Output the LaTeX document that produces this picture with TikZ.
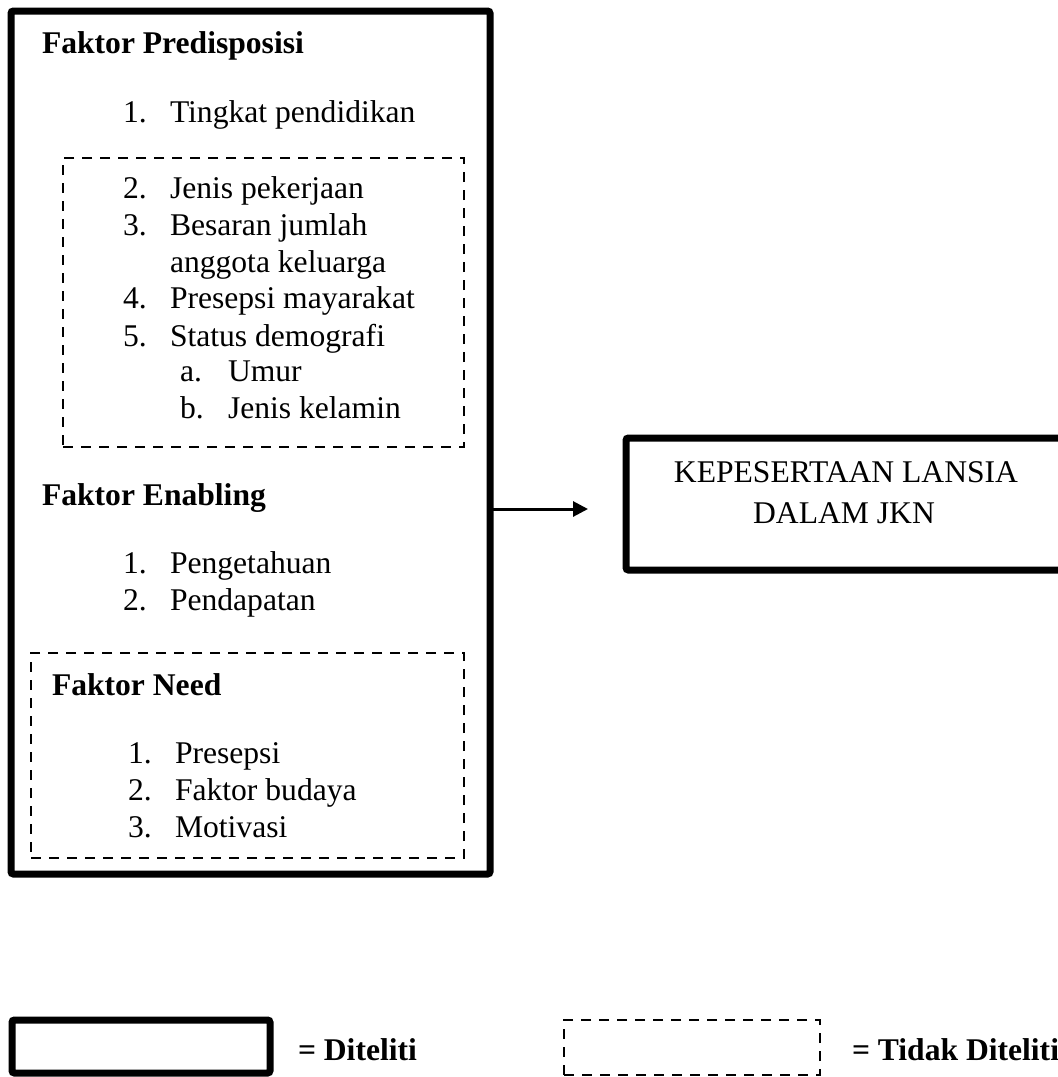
\documentclass[tikz,border=0pt]{standalone}
\usepackage{fontspec}
\setmainfont{Liberation Serif}
\usetikzlibrary{arrows.meta}
\tikzset{
  txt/.style={anchor=base west, inner sep=0pt, outer sep=0pt, font=\fontsize{15.8}{18}\selectfont},
  btxt/.style={txt, font=\fontsize{15.8}{18}\selectfont\bfseries},
  ctxt/.style={txt, anchor=base},
  solidbox/.style={draw, line width=3.5pt, rounded corners=1.2pt, inner sep=0pt, outer sep=0pt},
  dashbox/.style={draw, line width=1.1pt, dash pattern=on 5pt off 4pt, inner sep=0pt, outer sep=0pt},
  arr/.style={line width=1.5pt, -{Triangle[length=7.5pt,width=7.5pt]}},
}
\begin{document}
\begin{tikzpicture}[x=0.5pt,y=-0.5pt]
\useasboundingbox (0,0) rectangle (1057,1077);
% main box
\node[solidbox, minimum width=239.5pt, minimum height=431.5pt] (big) at (250.5,442.5) {};
% dashed inner boxes
\node[dashbox, minimum width=200.5pt, minimum height=144.5pt] (dpre) at (263.5,302.5) {};
\node[dashbox, minimum width=216.5pt, minimum height=102.5pt] (dneed) at (247.5,755.5) {};
% right box
\node[solidbox, minimum width=224.5pt, minimum height=66pt] (res) at (850.5,504) {};
% texts
\node[btxt] (h1) at (42,53) {Faktor Predisposisi};
\node[txt] (n1) at (123,122) {1.};  \node[txt] (i1) at (170,122) {Tingkat pendidikan};
\node[txt] (n2) at (123,198) {2.};  \node[txt] (i2) at (170,198) {Jenis pekerjaan};
\node[txt] (n3) at (123,235) {3.};  \node[txt] (i3) at (170,235) {Besaran jumlah};
\node[txt] (i3b) at (170,272) {anggota keluarga};
\node[txt] (n4) at (123,308) {4.};  \node[txt] (i4) at (170,308) {Presepsi mayarakat};
\node[txt] (n5) at (123,346) {5.};  \node[txt] (i5) at (170,346) {Status demografi};
\node[txt] (na) at (180,381) {a.};  \node[txt] (ia) at (228,381) {Umur};
\node[txt] (nb) at (180,418) {b.};  \node[txt] (ib) at (228,418) {Jenis kelamin};
\node[btxt] (h2) at (42,505) {Faktor Enabling};
\node[txt] (e1) at (123,573) {1.};  \node[txt] (ei1) at (170,573) {Pengetahuan};
\node[txt] (e2) at (123,610) {2.};  \node[txt] (ei2) at (170,610) {Pendapatan};
\node[btxt] (h3) at (52,695) {Faktor Need};
\node[txt] (m1) at (128,763) {1.};  \node[txt] (mi1) at (175,763) {Presepsi};
\node[txt] (m2) at (128,800) {2.};  \node[txt] (mi2) at (175,800) {Faktor budaya};
\node[txt] (m3) at (128,837) {3.};  \node[txt] (mi3) at (175,837) {Motivasi};
\node[ctxt] (r1) at (846,482) {KEPESERTAAN LANSIA};
\node[ctxt] (r2) at (844,523) {DALAM JKN};
% arrow
\coordinate (ay) at (0,509);
\draw[arr, shorten >=19pt] (big.east |- ay) -- (res.west |- ay);
% legend
\node[solidbox, minimum width=129pt, minimum height=26.5pt] (lg1) at (141,1046.5) {};
\node[btxt] (lt1) at (298,1060) {= Diteliti};
\node[dashbox, minimum width=128pt, minimum height=27.5pt] (lg2) at (692,1047.5) {};
\node[btxt] (lt2) at (852,1060) {= Tidak Diteliti};
\end{tikzpicture}
\end{document}
